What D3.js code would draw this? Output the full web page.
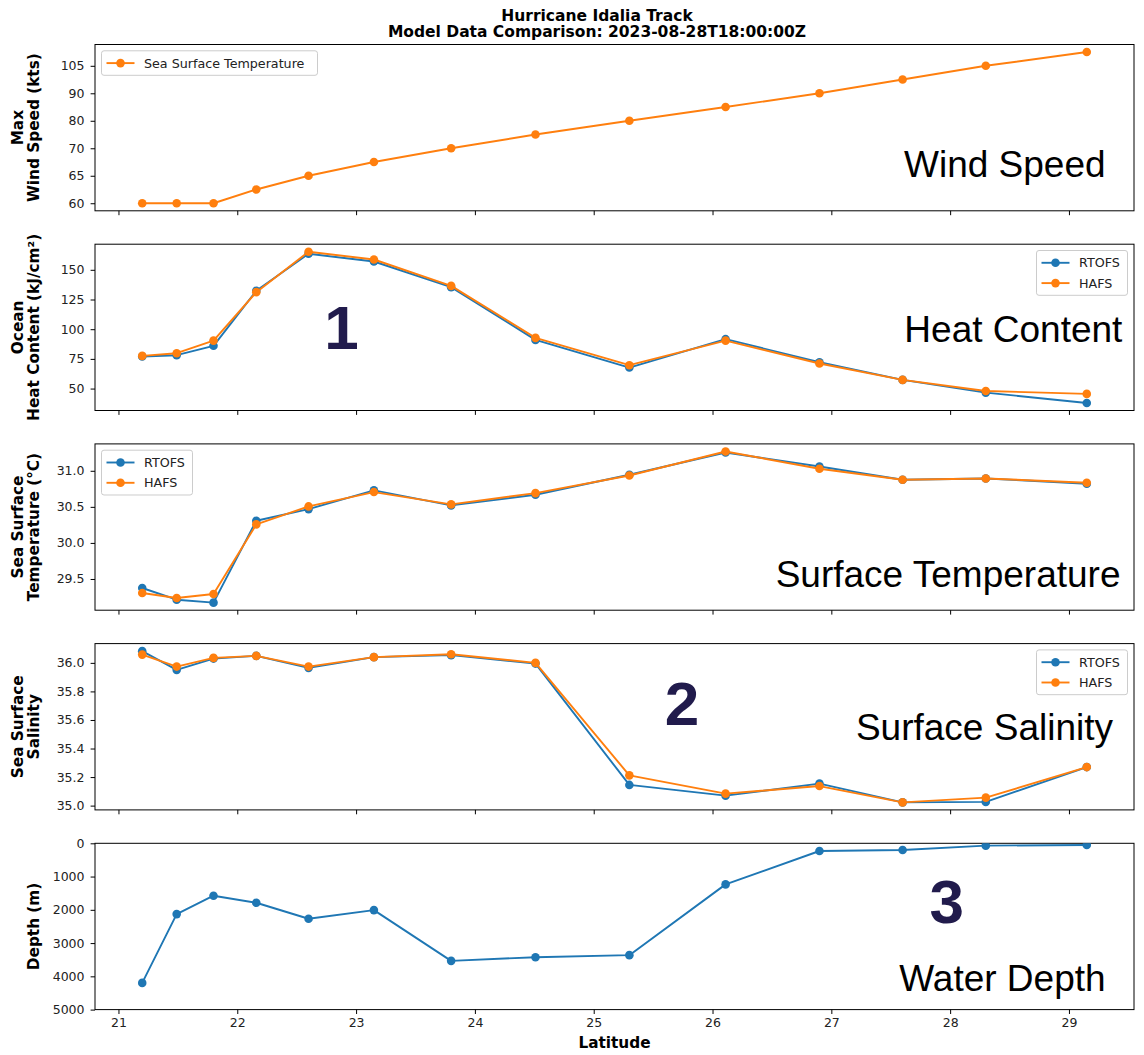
<!DOCTYPE html>
<html><head><meta charset="utf-8">
<script src="https://cdn.jsdelivr.net/npm/d3@7"></script>
<style>
body{margin:0;background:#fff;}
svg{display:block;}
</style></head><body>
<svg id="chart" width="1144" height="1055"></svg>
<script>
// ---------------- data ----------------
const latitude = [21.2, 21.49, 21.8, 22.16, 22.6, 23.15, 23.8, 24.51, 25.3, 26.11, 26.9, 27.6, 28.3, 29.15];
const windSpeed = [60, 60, 60, 63, 65, 68, 70, 75, 80, 85, 90, 100, 105, 110];
const windTickLabels = ["60", "65", "70", "80", "90", "105"];
const hcRTOFS = [77.0, 78.1, 86.0, 132.3, 163.5, 157.0, 135.4, 91.0, 67.7, 91.6, 72.2, 57.3, 46.6, 37.9];
const hcHAFS  = [77.5, 79.8, 90.4, 131.2, 165.2, 158.7, 136.5, 92.7, 69.7, 90.4, 71.1, 57.3, 48.0, 45.5];
const sstRTOFS = [29.375, 29.213, 29.172, 30.307, 30.469, 30.728, 30.520, 30.668, 30.945, 31.254, 31.060, 30.875, 30.894, 30.820];
const sstHAFS  = [29.306, 29.236, 29.292, 30.257, 30.506, 30.705, 30.534, 30.690, 30.935, 31.268, 31.028, 30.875, 30.894, 30.834];
const salRTOFS = [36.082, 35.951, 36.030, 36.049, 35.965, 36.040, 36.054, 35.995, 35.145, 35.070, 35.154, 35.023, 35.026, 35.270];
const salHAFS  = [36.058, 35.974, 36.035, 36.049, 35.974, 36.040, 36.060, 36.000, 35.212, 35.084, 35.137, 35.023, 35.056, 35.270];
const depth = [4197, 2129, 1576, 1787, 2269, 2008, 3534, 3424, 3363, 1235, 231, 201, 70, 50];
const latTicks = [21, 22, 23, 24, 25, 26, 27, 28, 29];
const hcTicks = [50, 75, 100, 125, 150];
const sstTicks = [29.5, 30.0, 30.5, 31.0];
const salTicks = [35.0, 35.2, 35.4, 35.6, 35.8, 36.0];
const depthTicks = [0, 1000, 2000, 3000, 4000, 5000];
const seriesNames = ["RTOFS", "HAFS"];
const windLegend = "Sea Surface Temperature";
const titleLines = ["Hurricane Idalia Track", "Model Data Comparison: 2023-08-28T18:00:00Z"];

// ---------------- layout ----------------
const C_BLUE = "#1f77b4", C_ORANGE = "#ff7f0e";
const L = 95, R = 1134, W = R - L;
const T0 = 44.5, STEP = 199.7, H = 166.3;
const TICK_FONT = "DejaVu Sans", TICK_SIZE = 12.5;
const svg = d3.select("#chart");

function pad(ext, frac = 0.05) {
  const s = ext[1] - ext[0];
  return [ext[0] - s * frac, ext[1] + s * frac];
}
const x = d3.scaleLinear().domain(pad(d3.extent(latitude))).range([0, W]);

function makePanel(i, cfg) {
  const top = T0 + i * STEP;
  const g = svg.append("g").attr("transform", `translate(${L},${top})`);
  const y = cfg.y.range([H, 0]);
  const clipId = "clip" + i;
  svg.append("clipPath").attr("id", clipId)
    .append("rect").attr("x", L).attr("y", top).attr("width", W).attr("height", H);

  // x axis
  const xa = g.append("g").attr("transform", `translate(0,${H})`)
    .call(d3.axisBottom(x).tickValues(latTicks).tickSize(4.4).tickPadding(4.2)
      .tickFormat(cfg.xLabels ? d3.format("d") : ""));
  // y axis
  const ya = g.append("g")
    .call(d3.axisLeft(y).tickValues(cfg.yTicks).tickSize(4.4).tickPadding(6.1)
      .tickFormat(cfg.yFormat));
  [xa, ya].forEach(a => {
    a.select(".domain").remove();
    a.selectAll(".tick line").attr("stroke", "#000").attr("stroke-width", 1);
    a.selectAll(".tick text").attr("fill", "#222")
      .style("font-family", TICK_FONT).style("font-size", TICK_SIZE + "px");
  });

  // series
  const plot = svg.append("g").attr("clip-path", `url(#${clipId})`)
    .append("g").attr("transform", `translate(${L},${top})`);
  cfg.series.forEach(s => {
    const pts = latitude.map((lat, k) => [x(lat), cfg.yVal(s.values[k])]);
    plot.append("path").attr("d", d3.line()(pts))
      .attr("fill", "none").attr("stroke", s.color).attr("stroke-width", 1.9)
      .attr("stroke-linejoin", "round");
    plot.selectAll(null).data(pts).enter().append("circle")
      .attr("cx", d => d[0]).attr("cy", d => d[1]).attr("r", 4.3)
      .attr("fill", s.color);
  });

  // frame
  g.append("rect").attr("x", 0).attr("y", 0).attr("width", W).attr("height", H)
    .attr("fill", "none").attr("stroke", "#000").attr("stroke-width", 1);

  // y label
  const lines = cfg.ylabel;
  const xs = lines.length === 2 ? [17.8, 34.3] : [34.3];
  lines.forEach((t, k) => {
    svg.append("text")
      .attr("transform", `translate(${xs[k]},${top + H / 2}) rotate(-90)`)
      .attr("text-anchor", "middle").attr("dominant-baseline", "central")
      .style("font-family", "DejaVu Sans").style("font-weight", "bold")
      .style("font-size", "15.3px").attr("fill", "#000").text(t);
  });

  // legend
  if (cfg.legend) {
    const lg = cfg.legend;
    const bw = lg.width, bh = 24.5 + (lg.entries.length - 1) * 20.3;
    const bx = lg.side === "left" ? 6.5 : W - 6.5 - bw;
    const by = 6.3;
    const lgG = g.append("g").attr("transform", `translate(${bx},${by})`);
    lgG.append("rect").attr("x", 0).attr("y", 0).attr("width", bw).attr("height", bh)
      .attr("rx", 2.5).attr("fill", "#fff").attr("fill-opacity", 0.8)
      .attr("stroke", "#cccccc").attr("stroke-width", 1);
    lg.entries.forEach((e, k) => {
      const cy = 12.3 + k * 20.3;
      lgG.append("line").attr("x1", 5).attr("x2", 33).attr("y1", cy).attr("y2", cy)
        .attr("stroke", e.color).attr("stroke-width", 1.9);
      lgG.append("circle").attr("cx", 19).attr("cy", cy).attr("r", 4.3).attr("fill", e.color);
      lgG.append("text").attr("x", 42.5).attr("y", cy).attr("dominant-baseline", "central")
        .style("font-family", TICK_FONT).style("font-size", "12.7px").attr("fill", "#222")
        .text(e.name);
    });
  }

  // big annotation
  g.append("text").attr("x", W - cfg.note.dr).attr("y", cfg.note.base)
    .attr("text-anchor", "end")
    .style("font-family", "Liberation Sans, Arial, sans-serif").style("font-size", "37px")
    .attr("fill", "#000").text(cfg.note.text);
  if (cfg.num) {
    g.append("text").attr("x", cfg.num.cx).attr("y", cfg.num.base)
      .attr("text-anchor", "middle")
      .style("font-family", "Liberation Sans, Arial, sans-serif").style("font-weight", "bold")
      .style("font-size", "62px").attr("fill", "#211b4c").text(cfg.num.text);
  }
  return g;
}

// wind speed: categorical axis (unique values in order of appearance)
const windCats = [...new Set(windSpeed)];
const windY = d3.scaleLinear().domain(pad([0, windCats.length - 1]));
const legendPair = [{ name: seriesNames[0], color: C_BLUE }, { name: seriesNames[1], color: C_ORANGE }];

makePanel(0, {
  y: windY,
  yVal: v => windY(windCats.indexOf(v)),
  yTicks: windTickLabels.map(t => windCats.indexOf(+t)),
  yFormat: (d) => String(windCats[d]),
  series: [{ values: windSpeed, color: C_ORANGE }],
  ylabel: ["Max", "Wind Speed (kts)"],
  legend: { side: "left", width: 216, entries: [{ name: windLegend, color: C_ORANGE }] },
  note: { text: "Wind Speed", dr: 28.4, base: 132.2 }
});

const hcY = d3.scaleLinear().domain(pad(d3.extent(hcRTOFS.concat(hcHAFS))));
makePanel(1, {
  y: hcY, yVal: v => hcY(v), yTicks: hcTicks, yFormat: d3.format("d"),
  series: [{ values: hcRTOFS, color: C_BLUE }, { values: hcHAFS, color: C_ORANGE }],
  ylabel: ["Ocean", "Heat Content (kJ/cm²)"],
  legend: { side: "right", width: 91, entries: legendPair },
  note: { text: "Heat Content", dr: 11.6, base: 97.7 },
  num: { text: "1", cx: 246.5, base: 105.3 }
});

const sstY = d3.scaleLinear().domain(pad(d3.extent(sstRTOFS.concat(sstHAFS))));
makePanel(2, {
  y: sstY, yVal: v => sstY(v), yTicks: sstTicks, yFormat: d3.format(".1f"),
  series: [{ values: sstRTOFS, color: C_BLUE }, { values: sstHAFS, color: C_ORANGE }],
  ylabel: ["Sea Surface", "Temperature (°C)"],
  legend: { side: "left", width: 91, entries: legendPair },
  note: { text: "Surface Temperature", dr: 13.5, base: 142.7 }
});

const salY = d3.scaleLinear().domain(pad(d3.extent(salRTOFS.concat(salHAFS))));
makePanel(3, {
  y: salY, yVal: v => salY(v), yTicks: salTicks, yFormat: d3.format(".1f"),
  series: [{ values: salRTOFS, color: C_BLUE }, { values: salHAFS, color: C_ORANGE }],
  ylabel: ["Sea Surface", "Salinity"],
  legend: { side: "right", width: 91, entries: legendPair },
  note: { text: "Surface Salinity", dr: 21, base: 96.3 },
  num: { text: "2", cx: 587, base: 81.5 }
});

const depthY = d3.scaleLinear().domain([5000, 0]);
makePanel(4, {
  y: depthY, yVal: v => depthY(v), yTicks: depthTicks, yFormat: d3.format("d"),
  series: [{ values: depth, color: C_BLUE }],
  ylabel: ["Depth (m)"],
  xLabels: true,
  note: { text: "Water Depth", dr: 28.4, base: 147.4 },
  num: { text: "3", cx: 851.8, base: 79.4 }
});

// x label
svg.append("text").attr("x", L + W / 2).attr("y", 1042.7)
  .attr("text-anchor", "middle").attr("dominant-baseline", "central")
  .style("font-family", "DejaVu Sans").style("font-weight", "bold").style("font-size", "15.3px")
  .text("Latitude");

// title
titleLines.forEach((t, k) => {
  svg.append("text").attr("x", 597).attr("y", 20.5 + k * 16.8)
    .attr("text-anchor", "middle")
    .style("font-family", "DejaVu Sans").style("font-weight", "bold").style("font-size", "15.5px")
    .text(t);
});
</script>
</body></html>
